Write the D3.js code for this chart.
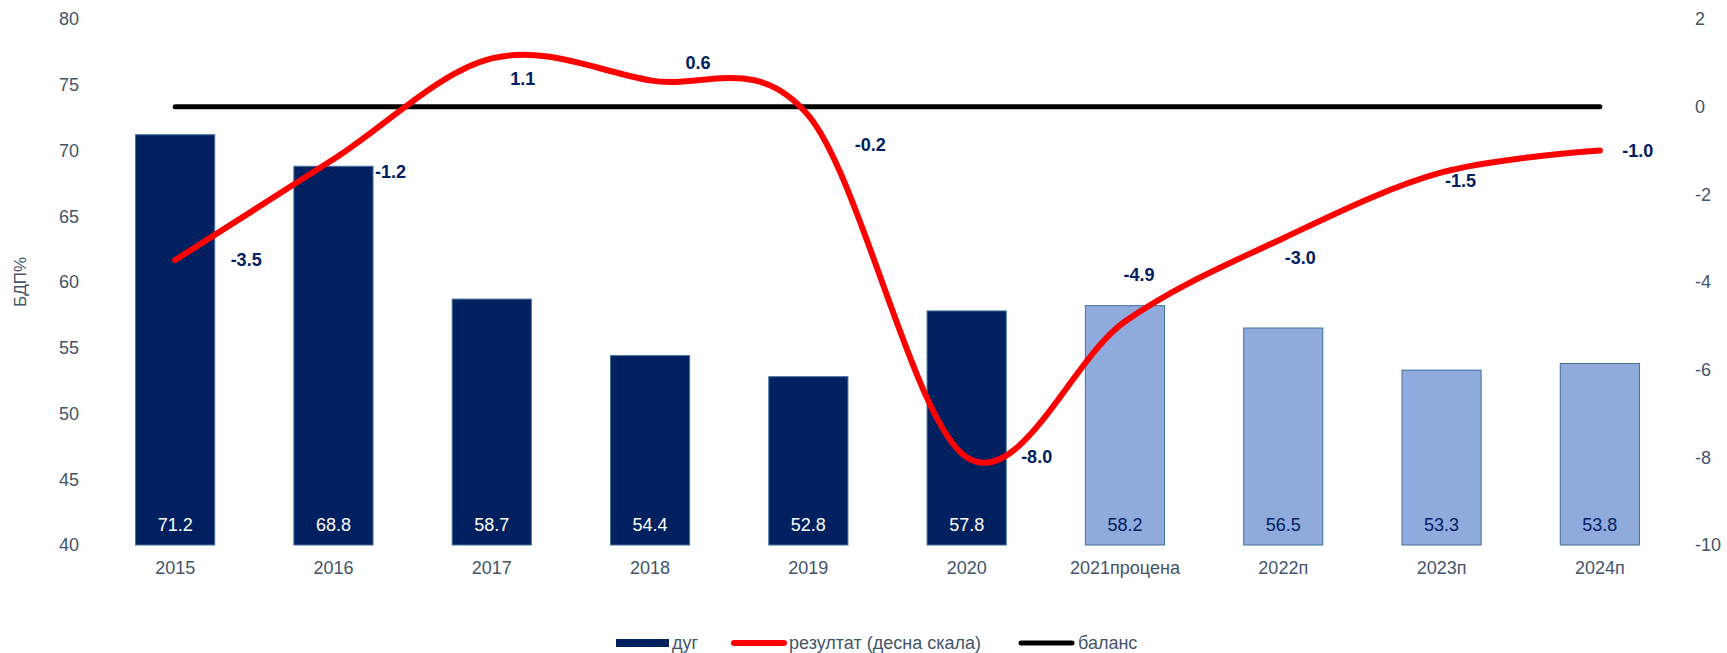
<!DOCTYPE html>
<html>
<head>
<meta charset="utf-8">
<script src="https://cdn.jsdelivr.net/npm/d3@7"></script>
<style>
    body { margin: 0; background: #fff; }
    svg { font-family: "Liberation Sans", Arial, sans-serif; display: block; }
</style>
</head>
<body>
<div id="container"></div>
<script>
// data
var categories = ["2015", "2016", "2017", "2018", "2019", "2020", "2021процена", "2022п", "2023п", "2024п"]
var debt = [71.2, 68.8, 58.7, 54.4, 52.8, 57.8, 58.2, 56.5, 53.3, 53.8]
var result = [-3.5, -1.2, 1.1, 0.6, -0.2, -8.0, -4.9, -3.0, -1.5, -1.0]
var balance = [0, 0, 0, 0, 0, 0, 0, 0, 0, 0]
var forecastFrom = 6 // bars from 2021 on are projections
var leftTicks = [40, 45, 50, 55, 60, 65, 70, 75, 80]
var rightTicks = [-10, -8, -6, -4, -2, 0, 2]
var legendNames = ["дуг", "резултат (десна скала)", "баланс"]

// where each result label sits relative to its point (px)
var labelOffsets = [[71, 0], [57, 13], [31, 21], [48, -17], [62, 30], [70, 0], [14, -46], [17, 20], [19, 9], [38, 0]]

main()

function main() {
    const width = 1727
    const height = 653
    const axisColor = "#44546A"
    const navy = "#002060"

    const svg = d3.create("svg")
        .attr("width", width)
        .attr("height", height)

    const x = d3.scaleBand()
        .domain(categories)
        .range([96, 1679])
        .paddingInner(0.5)
        .paddingOuter(0.25)

    const yLeft = d3.scaleLinear().domain([40, 80]).range([545, 19])
    const yRight = d3.scaleLinear().domain([-10, 2]).range([545, 19])

    // left axis
    const gl = svg.append("g")
        .attr("transform", "translate(86,0)")
        .call(d3.axisLeft(yLeft).tickValues(leftTicks).tickSize(0).tickPadding(7))
    gl.select(".domain").remove()
    gl.selectAll("text").attr("fill", axisColor).style("font-size", "18px").style("font-family", "Liberation Sans, Arial")

    // right axis, plain hyphen for negatives like the original
    const gr = svg.append("g")
        .attr("transform", "translate(1688,0)")
        .call(d3.axisRight(yRight).tickValues(rightTicks).tickFormat(d => String(d)).tickSize(0).tickPadding(7))
    gr.select(".domain").remove()
    gr.selectAll("text").attr("fill", axisColor).style("font-size", "18px").style("font-family", "Liberation Sans, Arial")

    // bottom axis
    const gb = svg.append("g")
        .attr("transform", "translate(0,545)")
        .call(d3.axisBottom(x).tickSize(0).tickPadding(16))
    gb.select(".domain").remove()
    gb.selectAll("text").attr("fill", axisColor).style("font-size", "18px").style("font-family", "Liberation Sans, Arial")

    // y title
    svg.append("text")
        .attr("transform", "translate(26,282) rotate(-90)")
        .attr("text-anchor", "middle")
        .attr("fill", axisColor)
        .style("font-size", "17px")
        .text("БДП%")

    // bars
    svg.selectAll("rect.bar")
        .data(debt)
        .enter()
        .append("rect")
        .attr("class", "bar")
        .attr("x", (d, i) => x(categories[i]))
        .attr("y", d => yLeft(d))
        .attr("width", x.bandwidth())
        .attr("height", d => yLeft(40) - yLeft(d))
        .attr("fill", (d, i) => i < forecastFrom ? navy : "#8FAADC")
        .attr("stroke", "#41719C")
        .attr("stroke-width", 1)

    svg.selectAll("text.barlabel")
        .data(debt)
        .enter()
        .append("text")
        .attr("class", "barlabel")
        .attr("x", (d, i) => x(categories[i]) + x.bandwidth() / 2)
        .attr("y", 531)
        .attr("text-anchor", "middle")
        .attr("fill", (d, i) => i < forecastFrom ? "#ffffff" : navy)
        .style("font-size", "18px")
        .text(d => d.toFixed(1))

    const cx = i => x(categories[i]) + x.bandwidth() / 2

    // balance line
    svg.append("path")
        .datum(balance)
        .attr("fill", "none")
        .attr("stroke", "#000")
        .attr("stroke-width", 5)
        .attr("stroke-linecap", "round")
        .attr("d", d3.line().x((d, i) => cx(i)).y(d => yRight(d)))

    // result line (smoothed like Excel)
    svg.append("path")
        .datum(result)
        .attr("fill", "none")
        .attr("stroke", "#FF0000")
        .attr("stroke-width", 6)
        .attr("stroke-linecap", "round")
        .attr("d", d3.line().x((d, i) => cx(i)).y(d => yRight(d)).curve(d3.curveCardinal))

    svg.selectAll("text.reslabel")
        .data(result)
        .enter()
        .append("text")
        .attr("class", "reslabel")
        .attr("x", (d, i) => cx(i) + labelOffsets[i][0])
        .attr("y", (d, i) => yRight(d) + labelOffsets[i][1] + 6)
        .attr("text-anchor", "middle")
        .attr("fill", navy)
        .style("font-size", "18px")
        .style("font-weight", "bold")
        .text(d => d.toFixed(1))

    // legend
    const legend = svg.append("g").attr("transform", "translate(0,643)")
    legend.append("rect")
        .attr("x", 616).attr("y", -4).attr("width", 53).attr("height", 8)
        .attr("fill", navy)
    legend.append("line")
        .attr("x1", 734).attr("x2", 784).attr("y1", 0).attr("y2", 0)
        .attr("stroke", "#FF0000").attr("stroke-width", 6).attr("stroke-linecap", "round")
    legend.append("line")
        .attr("x1", 1021).attr("x2", 1072).attr("y1", 0).attr("y2", 0)
        .attr("stroke", "#000").attr("stroke-width", 5).attr("stroke-linecap", "round")
    var legendX = [672, 789, 1078]
    legendNames.forEach((name, i) => {
        legend.append("text")
            .attr("x", legendX[i])
            .attr("y", 6)
            .attr("fill", axisColor)
            .style("font-size", "18px")
            .text(name)
    })

    document.getElementById("container").append(svg.node())
}
</script>
</body>
</html>
